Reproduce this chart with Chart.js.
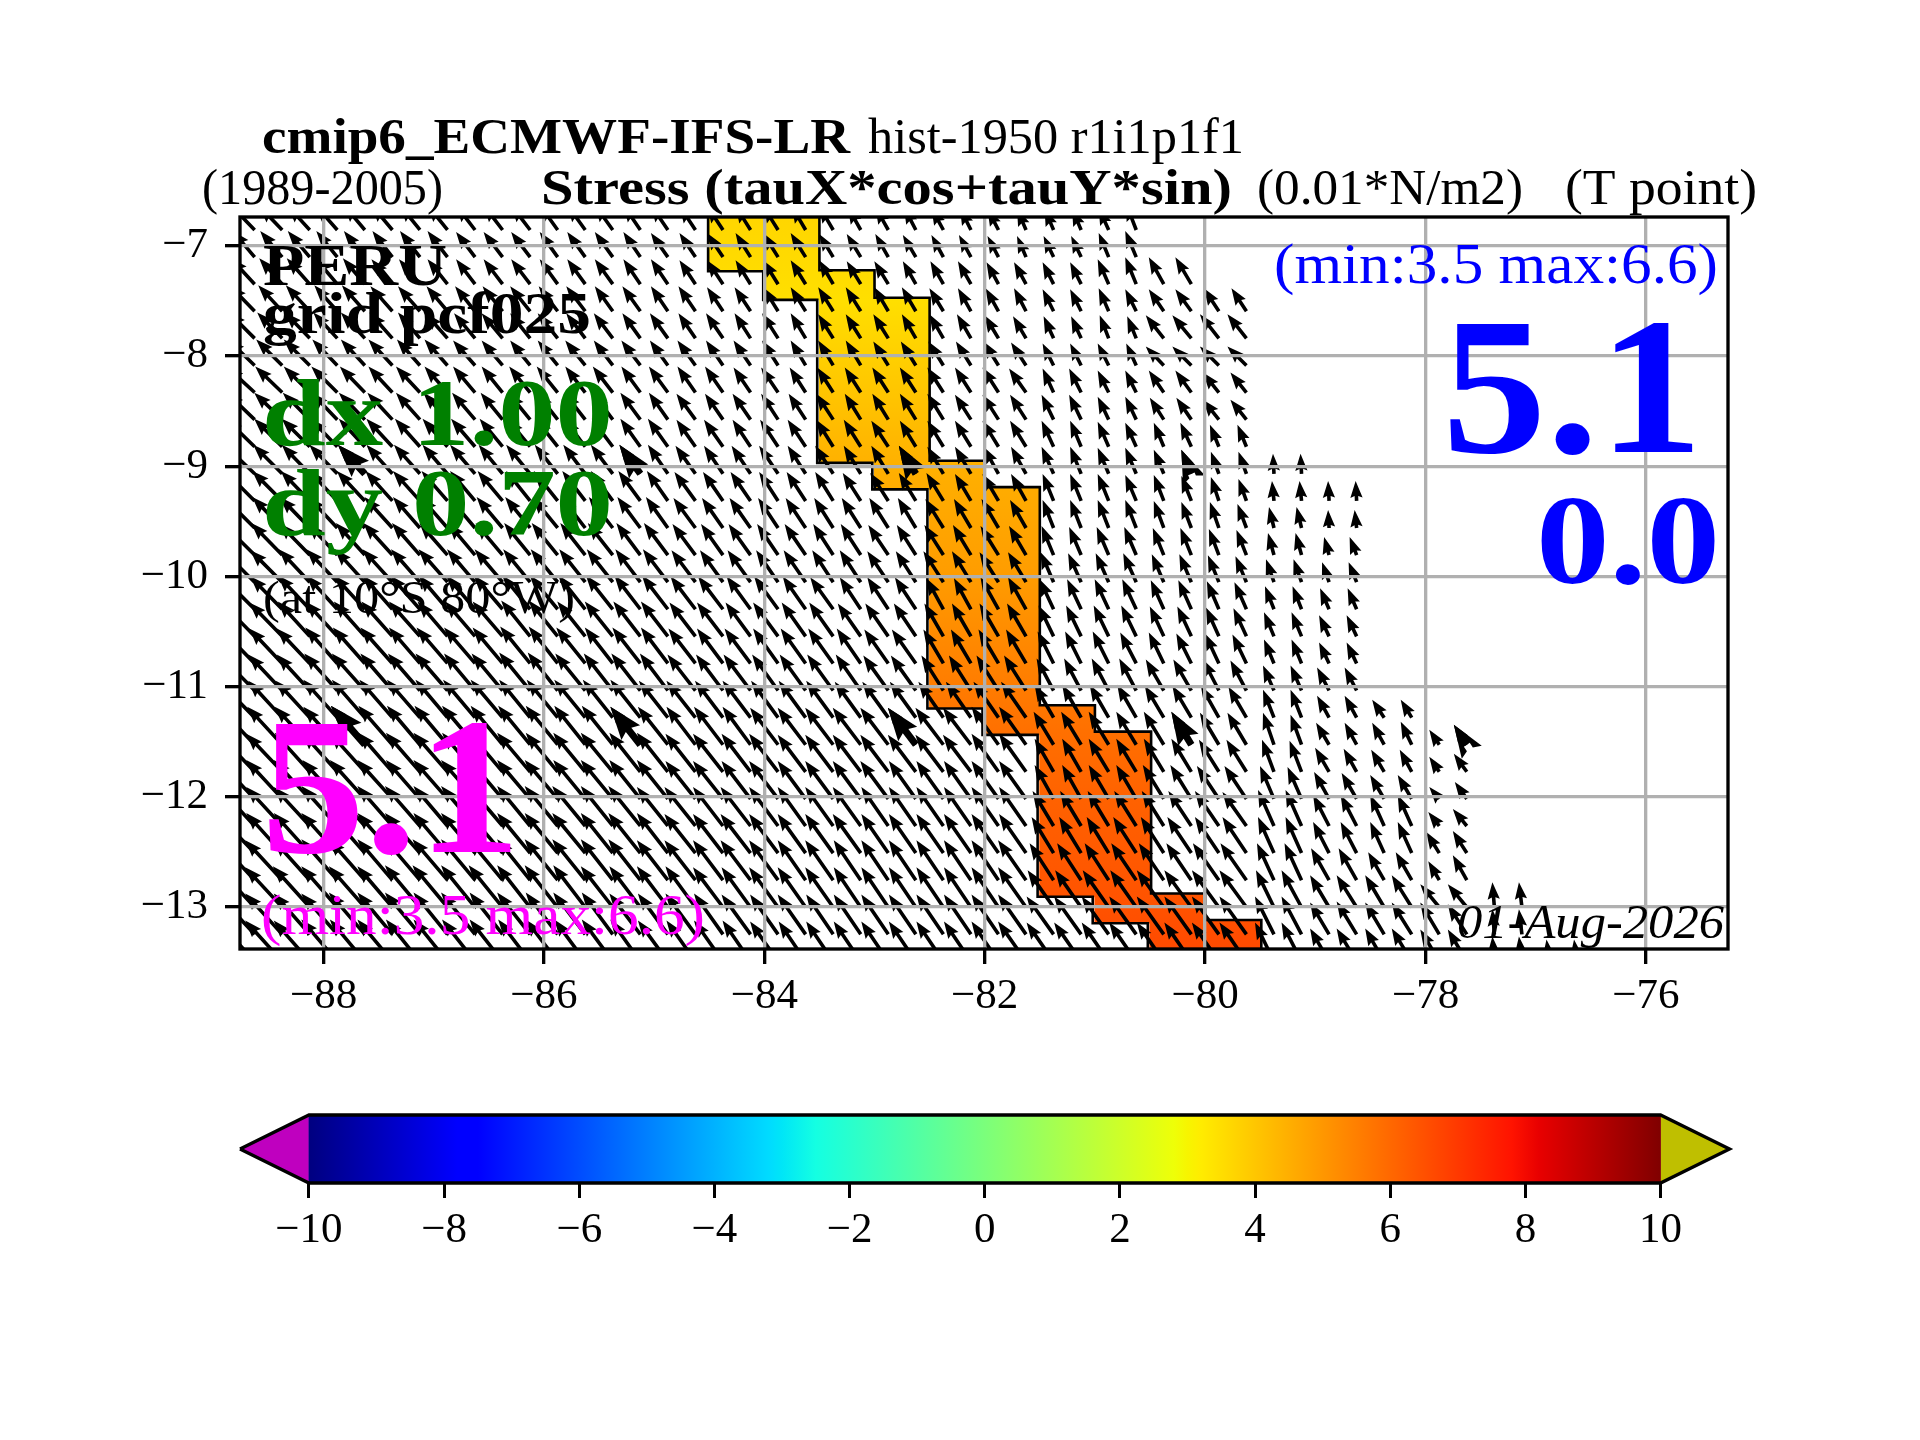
<!DOCTYPE html>
<html>
<head>
<meta charset="utf-8">
<title>cmip6 ECMWF-IFS-LR stress</title>
<script src="https://cdn.jsdelivr.net/npm/chart.js@4/dist/chart.umd.js"></script>
<style>
  html, body { margin: 0; padding: 0; background: #fff; }
  canvas { display: block; }
</style>
</head>
<body>
<canvas id="mapChart" width="1920" height="1060"></canvas>
<canvas id="barChart" width="1920" height="380"></canvas>
<script>
// tick labels
const lonTicks = [-88, -86, -84, -82, -80, -78, -76];
const latTicks = [-7, -8, -9, -10, -11, -12, -13];
const colorbarTicks = [-10, -8, -6, -4, -2, 0, 2, 4, 6, 8, 10];

// coloured cells, one bar per 0.5 degree column
const cellLon = [-84.25, -83.75, -83.25, -82.75, -82.25, -81.75, -81.25, -80.75, -80.25, -79.75];
const cellTop = [-6.6, -6.6, -7.22, -7.47, -8.95, -9.19, -11.17, -11.41, -12.88, -13.12];
const cellBottom = [-7.23, -7.49, -8.97, -9.21, -11.2, -11.44, -12.91, -13.15, -13.6, -13.6];
const cellValueLat = [-6.74, -7.5, -8.5, -9, -10, -11, -11.4, -12, -13, -13.38];
const cellValueColor = ['#ffd600', '#ffdf00', '#ffc000', '#ffb000', '#ff9c00', '#ff7c00', '#ff7000', '#ff6200', '#ff5200', '#ff4a00'];

// black outline round the cells
const outlineLon = [-84.51, -83.5, -83.5, -83, -83, -82.5, -82.5, -82, -82, -81.5, -81.5, -81, -81, -80.49, -80.49, -80, -80, -79.49, -79.49,
  -80.52, -80.52, -81.02, -81.02, -81.52, -81.52, -82.02, -82.02, -82.52, -82.52, -83.02, -83.02, -83.52, -83.52, -84.01, -84.01, -84.51, -84.51];
const outlineLat = [-6.6, -6.6, -7.22, -7.22, -7.47, -7.47, -8.95, -8.95, -9.19, -9.19, -11.17, -11.17, -11.41, -11.41, -12.88, -12.88, -13.12, -13.12, -13.6,
  -13.6, -13.15, -13.15, -12.91, -12.91, -11.44, -11.44, -11.2, -11.2, -9.21, -9.21, -8.97, -8.97, -7.49, -7.49, -7.23, -7.23, -6.6];

// arrow tails
const arrowLon = [-88.625, -88.375, -88.125, -87.875, -87.625, -87.375, -87.125, -86.875, -86.625, -86.375,
  -86.125, -85.875, -85.625, -85.375, -85.125, -84.875, -84.625, -84.375, -84.125, -83.875,
  -83.625, -83.375, -83.125, -82.875, -82.625, -82.375, -82.125, -81.875, -81.625, -81.375,
  -81.125, -80.875, -80.625, -80.375, -80.125, -79.875, -79.625, -79.375, -79.125, -78.875,
  -78.625, -78.375, -78.125, -77.875, -77.625, -77.375, -77.125, -76.875, -76.625];
const arrowLat = [-6.855, -7.101, -7.347, -7.593, -7.839, -8.085, -8.331, -8.577, -8.823, -9.069,
  -9.315, -9.561, -9.807, -10.053, -10.299, -10.545, -10.791, -11.037, -11.283, -11.529,
  -11.775, -12.021, -12.267, -12.513, -12.759, -13.005, -13.251, -13.497];

// westward part of each arrow, row by row
const westRows = [
  [23,23,22,22,21,21,20,20,19,19,19,18,18,18,17,17,16,16,15,15,14,14,13,13,12,12,11,11,9,9,9,10,10],
  [22,22,22,21,21,20,20,20,19,19,19,18,18,18,17,17,16,16,15,15,15,14,14,13,13,12,12,11,9,10,10,10,11],
  [24,23,23,22,22,21,21,20,19,19,19,18,18,18,17,17,16,16,15,15,15,14,14,14,13,13,13,12,12,11,11,11,11,15,16],
  [25,24,24,23,23,22,22,21,20,20,20,19,19,18,18,17,17,16,16,15,15,15,15,14,14,14,13,13,12,11,11,10,11,15,16,15,15],
  [26,25,25,24,24,23,22,22,21,21,20,20,19,19,18,18,17,17,16,16,15,15,15,15,14,14,14,14,13,10,10,9,9,18,19,19,19],
  [27,26,26,25,24,24,23,23,22,21,20,20,20,19,19,18,18,17,17,16,15,15,15,15,15,15,15,15,15,11,11,11,10,18,19,19,19],
  [28,27,26,26,25,24,24,23,22,21,21,21,20,20,19,19,18,18,17,17,16,16,16,16,16,16,16,16,17,11,12,11,11,15,16,16,16],
  [28,28,27,26,26,25,24,24,23,22,22,21,21,20,20,19,19,18,18,17,17,17,16,16,16,16,16,16,16,12,12,11,11,14,15,16,16],
  [29,28,28,27,26,26,25,25,24,23,23,22,21,21,20,20,19,19,18,18,18,17,17,17,16,16,16,16,16,12,11,11,11,10,11,9,9],
  [30,29,28,28,27,26,26,25,25,24,24,23,22,22,21,20,20,19,19,19,18,18,17,17,17,16,16,15,15,12,11,11,11,10,10,8,8,1,1],
  [30,30,29,28,28,27,27,26,25,25,24,24,23,22,22,21,21,20,20,19,19,18,18,18,17,17,16,16,15,11,11,11,11,10,10,8,8,2,2,1,1],
  [31,30,30,29,29,28,27,27,26,26,25,25,24,24,23,22,22,21,21,20,20,19,19,19,18,18,17,17,16,11,11,11,11,10,10,9,9,5,5,1,2],
  [32,31,31,30,29,29,28,28,27,27,26,26,25,25,24,24,23,22,22,21,21,20,20,20,19,19,18,18,17,12,12,12,12,11,11,10,10,6,6,5,7],
  [32,32,31,31,30,30,29,29,28,28,27,27,26,26,25,25,24,23,23,22,22,21,21,21,20,20,19,19,18,13,13,13,13,12,12,11,11,8,8,7,8],
  [33,32,32,31,31,30,30,29,29,29,28,28,27,27,26,26,25,25,24,24,23,23,21,21,21,17,17,18,18,14,14,14,14,13,13,12,12,9,9,9,9],
  [33,33,32,32,31,31,31,30,30,30,29,29,28,28,27,27,26,26,25,25,24,24,23,23,22,19,19,19,19,15,15,15,15,14,14,13,13,10,10,10,10],
  [34,33,33,32,32,32,31,31,31,30,30,29,29,28,28,27,27,26,26,25,25,25,24,24,24,20,20,20,20,16,16,16,16,15,15,14,14,10,10,10,10],
  [34,34,33,33,33,32,32,32,31,31,31,30,30,29,29,28,28,27,27,26,26,26,25,25,25,22,22,22,22,17,17,17,17,18,18,16,16,11,11,12,12],
  [35,34,34,34,33,33,33,32,32,32,31,31,31,30,30,29,29,28,28,27,27,27,26,26,26,25,25,25,25,19,19,19,19,19,19,18,18,11,11,12,12,12,11],
  [35,35,35,34,34,34,33,33,33,32,32,32,31,31,30,30,29,29,28,28,28,28,28,28,28,28,28,27,27,20,20,20,20,20,20,19,19,11,11,13,12,12,11,10,13],
  [36,36,35,35,35,34,34,34,33,33,33,32,32,32,31,31,30,30,29,29,28,28,28,28,28,28,28,27,27,19,19,20,20,20,20,20,20,12,12,14,13,13,12,10,13],
  [36,36,36,35,35,35,34,34,34,33,33,33,32,32,31,31,30,30,29,29,28,28,28,28,27,27,27,27,27,19,19,20,20,21,21,22,22,14,14,15,15,14,14,10,12],
  [36,36,36,36,35,35,35,34,34,34,33,33,33,32,32,31,31,30,30,29,28,28,28,27,27,27,27,27,27,21,21,21,22,22,23,24,24,16,16,16,16,14,14,11,14],
  [37,36,36,36,35,35,35,34,34,34,33,33,33,32,32,31,31,30,30,29,28,28,28,27,27,27,27,27,27,22,22,22,23,23,24,24,24,16,16,16,16,14,14,13,14],
  [37,37,36,36,36,35,35,35,34,34,33,33,33,32,32,31,31,30,30,29,28,28,27,27,27,27,27,27,28,24,24,24,25,25,25,26,26,17,17,18,18,16,16,11,14],
  [37,37,37,36,36,35,35,35,34,34,33,33,32,32,31,31,30,30,29,29,28,28,27,27,27,27,27,27,28,26,26,26,26,27,27,27,27,18,20,19,20,19,20,19,19,2,3],
  [37,37,36,36,36,35,35,34,34,33,33,32,32,31,31,30,30,29,29,28,28,27,27,27,27,27,27,27,28,27,27,27,27,27,27,27,27,19,20,19,20,19,20,19,19,2,3],
  [37,37,36,36,35,35,34,34,33,33,32,32,31,31,30,30,29,29,28,28,27,27,27,27,27,27,27,27,28,27,27,27,27,27,27,27,27,19,20,19,20,19,20,19,19,2,3,3,3]
];

// northward part of each arrow, row by row
const northRows = [
  [24,24,24,25,25,25,25,25,25,25,25,25,25,25,25,25,24,24,24,24,24,24,23,23,23,22,22,21,21,21,21,22,26],
  [26,26,26,26,26,26,26,26,25,25,25,25,25,25,25,24,24,24,24,24,24,23,23,23,22,22,22,21,21,21,21,24,26],
  [26,26,26,26,26,25,25,25,25,25,25,25,25,25,25,25,24,24,24,24,24,24,23,23,23,23,23,22,22,22,22,25,27,27,27],
  [26,26,26,26,26,25,25,25,25,25,25,25,25,25,25,25,25,24,24,24,24,24,24,24,24,23,23,23,23,22,22,23,22,22,22,23,23],
  [26,26,26,26,26,26,26,25,25,25,25,25,25,25,25,25,25,25,25,25,25,24,24,24,24,24,24,23,22,22,22,23,22,23,23,24,24],
  [26,26,26,26,26,26,26,26,25,25,25,25,25,25,25,25,25,25,25,25,25,25,25,24,24,24,24,24,23,22,22,22,22,19,19,19,19],
  [26,26,26,26,26,26,26,26,26,26,26,26,26,26,26,26,26,26,25,25,25,25,25,25,25,25,25,25,24,24,24,22,22,22,22,20,20],
  [27,27,27,27,27,27,27,27,27,27,27,27,27,27,27,27,26,26,26,26,26,26,26,26,26,26,25,25,25,25,25,23,23,22,22,20,20],
  [28,28,28,28,28,28,28,28,28,28,28,28,28,28,28,28,27,27,27,27,27,27,27,26,26,26,26,26,26,26,26,25,24,24,24,22,22],
  [29,29,29,29,29,29,29,29,29,29,29,29,29,29,29,29,28,28,28,28,28,28,28,28,28,27,27,27,27,27,27,26,26,24,24,22,22,20,20],
  [30,30,30,30,30,30,30,30,30,30,30,30,30,30,30,30,29,29,29,29,29,29,28,28,28,28,27,27,27,27,27,27,26,26,25,24,22,20,20,20,20],
  [31,31,31,31,31,31,31,31,31,31,31,31,31,31,31,31,30,30,30,30,30,30,30,30,30,29,29,29,28,28,28,28,28,27,26,26,24,21,21,18,18],
  [32,32,32,32,32,32,32,32,32,32,32,32,32,32,32,32,31,31,31,31,31,31,31,30,30,30,30,29,29,29,28,28,28,27,27,26,25,22,22,18,18],
  [32,32,33,33,33,33,33,33,33,33,33,33,33,33,33,33,32,32,32,32,32,32,32,31,31,31,31,30,30,30,29,29,29,28,28,27,26,23,23,20,20],
  [33,33,34,34,34,34,34,34,34,34,34,34,34,34,34,34,33,33,33,33,33,32,32,32,32,31,31,32,32,30,30,30,30,29,29,28,27,23,23,21,21],
  [34,34,35,35,35,35,35,35,35,35,36,36,35,35,35,35,34,34,34,34,34,34,33,33,33,33,33,33,33,31,31,31,31,30,30,29,28,24,24,21,21],
  [35,35,35,36,36,36,36,36,36,36,37,37,36,36,36,36,35,35,35,35,35,35,35,34,34,34,34,34,34,32,32,32,31,31,30,30,29,24,24,21,21],
  [35,36,36,37,37,37,37,37,37,37,38,38,37,37,37,37,36,36,36,36,36,36,36,35,35,35,35,35,35,32,32,32,32,31,31,31,30,25,25,23,23],
  [36,37,37,38,38,38,38,38,38,38,38,38,38,38,38,37,37,37,37,37,37,37,36,36,36,36,36,36,36,33,33,33,33,32,32,32,31,28,28,22,22,18,18],
  [37,38,38,38,39,39,39,39,39,39,39,39,39,39,38,38,38,38,38,37,37,37,37,37,37,37,37,38,38,33,33,33,33,33,33,32,32,32,30,22,22,22,23,15,20],
  [38,38,39,39,39,39,39,39,39,39,39,39,39,39,39,39,38,38,38,38,37,37,37,37,37,37,37,38,38,33,33,33,33,33,33,32,32,32,31,24,23,22,22,15,18],
  [38,39,39,39,39,39,39,39,39,39,39,39,39,39,39,39,38,38,38,38,38,38,38,38,38,38,38,38,38,34,34,34,34,34,34,33,33,33,32,27,26,24,24,12,17],
  [39,39,39,40,40,40,40,40,40,40,40,40,40,40,40,39,39,39,39,39,39,39,39,39,39,39,39,39,39,35,35,35,35,35,35,35,34,36,36,31,31,31,31,14,17],
  [39,40,40,40,40,40,40,40,40,40,40,40,40,40,40,40,39,39,39,39,39,39,39,39,39,39,39,39,39,36,36,36,36,36,36,36,36,36,36,31,31,31,31,21,22],
  [40,40,40,41,41,41,41,41,41,41,41,41,41,41,41,40,40,40,40,40,40,40,40,40,40,40,40,40,40,37,37,37,37,37,37,37,37,37,37,32,32,28,28,19,25],
  [40,40,41,41,41,41,42,42,42,42,42,42,42,41,41,41,41,40,40,40,40,40,40,40,40,40,40,40,40,37,37,37,37,37,37,37,37,37,37,32,32,32,32,23,23,25,25],
  [40,41,41,41,42,42,42,42,42,42,42,42,42,42,41,41,41,41,40,40,40,40,40,40,40,40,40,40,40,38,38,38,38,38,38,38,38,38,38,32,33,32,32,32,30,25,25],
  [41,41,41,42,42,42,42,42,42,42,42,42,42,42,42,41,41,41,41,40,40,40,40,40,40,40,40,40,40,39,39,39,39,39,39,39,39,39,39,33,33,33,33,32,32,25,25,22,22]
];

// every tenth arrow is drawn heavy
const heavyRows = [9, 19];
const heavyCols = [4, 14, 24, 34, 44];

// colour bar
const jetStops = [0, 0.11, 0.125, 0.34, 0.35, 0.375, 0.64, 0.65, 0.66, 0.89, 0.91, 1];
const jetColors = ['#000080', '#0000ff', '#0000ff', '#00dbff', '#00e6f7', '#14ffe2', '#eeff08', '#f7f500', '#ffec00', '#ff1300', '#e80000', '#800000'];
const colorbarLimits = [-10, 10];
const colorbarTip = 11.02;
const underColor = '#bf00bf';
const overColor = '#bfbf00';

const serif = '"Liberation Serif", serif';
const arrowScale = 1 / 110.2;

const lightTexts = [
  // text, left, right, baseline, css font, colour
  ['cmip6_ECMWF-IFS-LR', 262, 850, 153, 'bold 50px', '#000'],
  ['hist-1950 r1i1p1f1', 868, 1244, 153, '50px', '#000'],
  ['(1989-2005)', 202, 443, 204, '50px', '#000'],
  ['Stress (tauX*cos+tauY*sin)', 541, 1232, 204, 'bold 50px', '#000'],
  ['(0.01*N/m2)', 1257, 1523, 204, '50px', '#000'],
  ['(T point)', 1565, 1757, 204, '50px', '#000'],
  ['PERU', 263, 447, 285, 'bold 60px', '#000'],
  ['grid pcf025', 263, 591, 333, 'bold 60px', '#000'],
  ['dx 1.00', 262, 613, 445, 'bold 95px', '#008000'],
  ['dy 0.70', 262, 613, 535, 'bold 95px', '#008000'],
  ['(at 10\u00b0S 80\u00b0W)', 263, 575, 613, '46px', '#000'],
  ['5.1', 261, 521, 852, 'bold 196px', '#ff00ff'],
  ['(min:3.5 max:6.6)', 261, 705, 934, '58px', '#ff00ff'],
  ['(min:3.5 max:6.6)', 1274, 1718, 283, '58px', '#0000ff'],
  ['5.1', 1442, 1703, 452, 'bold 196px', '#0000ff'],
  ['0.0', 1536, 1720, 583, 'bold 127px', '#0000ff'],
  ['01-Aug-2026', 1457, 1724, 938, 'italic 48px', '#000']
];

function minusLabel(v) {
  return String(v).replace('-', '\u2212');
}

function arrowPoints() {
  const pts = [];
  westRows.forEach(function(row, j) {
    row.forEach(function(west, k) {
      pts.push({ x: arrowLon[k], y: arrowLat[j], west: west, north: northRows[j][k] });
    });
  });
  return pts;
}

function heavyPoints() {
  const pts = [];
  heavyRows.forEach(function(j) {
    heavyCols.forEach(function(k) {
      if (k < westRows[j].length) {
        pts.push({ x: arrowLon[k], y: arrowLat[j], west: westRows[j][k], north: northRows[j][k] });
      }
    });
  });
  return pts;
}

function drawArrow(ctx, x0, y0, x1, y1, w) {
  const len = Math.hypot(x1 - x0, y1 - y0);
  if (len < 1) return;
  ctx.save();
  ctx.translate(x0, y0);
  ctx.rotate(Math.atan2(y1 - y0, x1 - x0));
  ctx.beginPath();
  ctx.moveTo(0, -w / 2);
  ctx.lineTo(len - 4.2 * w, -w / 2);
  ctx.lineTo(len - 4.7 * w, -1.7 * w);
  ctx.lineTo(len, 0);
  ctx.lineTo(len - 4.7 * w, 1.7 * w);
  ctx.lineTo(len - 4.2 * w, w / 2);
  ctx.lineTo(0, w / 2);
  ctx.closePath();
  ctx.fill();
  ctx.restore();
}

// arrows go through the x and y scales of the chart
const quiverPlugin = {
  id: 'quiver',
  afterDatasetsDraw(chart) {
    const { ctx, chartArea, scales } = chart;
    ctx.save();
    ctx.beginPath();
    ctx.rect(chartArea.left, chartArea.top, chartArea.width, chartArea.height);
    ctx.clip();
    ctx.fillStyle = '#000';
    chart.data.datasets.forEach(function(ds) {
      if (!ds.arrowWidth) return;
      ds.data.forEach(function(p) {
        drawArrow(ctx,
          scales.x.getPixelForValue(p.x), scales.y.getPixelForValue(p.y),
          scales.x.getPixelForValue(p.x - p.west * arrowScale), scales.y.getPixelForValue(p.y + p.north * arrowScale),
          ds.arrowWidth);
      });
    });
    ctx.restore();
  }
};

const framePlugin = {
  id: 'frameAndText',
  afterDraw(chart) {
    const { ctx, chartArea } = chart;
    ctx.save();
    ctx.strokeStyle = '#000';
    ctx.lineWidth = 3.33;
    ctx.strokeRect(chartArea.left, chartArea.top, chartArea.width, chartArea.height);
    ctx.textBaseline = 'alphabetic';
    ctx.textAlign = 'left';
    lightTexts.forEach(function(t) {
      ctx.font = t[4] + ' ' + serif;
      ctx.fillStyle = t[5];
      const width = ctx.measureText(t[0]).width;
      ctx.save();
      ctx.translate(t[1], t[3]);
      ctx.scale((t[2] - t[1]) / width, 1);
      ctx.fillText(t[0], 0, 0);
      ctx.restore();
    });
    ctx.restore();
  }
};

function cellGradient(context) {
  const chart = context.chart;
  if (!chart.chartArea) return cellValueColor[0];
  const y = chart.scales.y;
  const top = y.getPixelForValue(cellValueLat[0]);
  const bottom = y.getPixelForValue(cellValueLat[cellValueLat.length - 1]);
  const g = chart.ctx.createLinearGradient(0, top, 0, bottom);
  cellValueLat.forEach(function(lat, i) {
    g.addColorStop((y.getPixelForValue(lat) - top) / (bottom - top), cellValueColor[i]);
  });
  return g;
}

new Chart(document.getElementById('mapChart'), {
  type: 'bar',
  plugins: [quiverPlugin, framePlugin],
  data: {
    datasets: [
      {
        label: 'cells',
        order: 3,
        data: cellLon.map(function(lon, i) { return { x: lon, y: [cellBottom[i], cellTop[i]] }; }),
        backgroundColor: cellGradient,
        borderWidth: 0,
        barThickness: 55.5
      },
      {
        type: 'line',
        label: 'outline',
        order: 2,
        data: outlineLon.map(function(lon, i) { return { x: lon, y: outlineLat[i] }; }),
        borderColor: '#000',
        borderWidth: 2.6,
        pointRadius: 0,
        tension: 0,
        fill: false
      },
      {
        type: 'scatter',
        label: 'stress',
        order: 1,
        data: arrowPoints(),
        pointRadius: 0,
        arrowWidth: 3.6
      },
      {
        type: 'scatter',
        label: 'stress every tenth',
        order: 1,
        data: heavyPoints(),
        pointRadius: 0,
        arrowWidth: 7
      }
    ]
  },
  options: {
    responsive: false,
    animation: false,
    devicePixelRatio: 1,
    layout: { autoPadding: false, padding: { left: 0, top: 217, right: 192, bottom: 0 } },
    plugins: { legend: { display: false }, title: { display: false }, tooltip: { enabled: false } },
    scales: {
      x: {
        type: 'linear',
        min: -88.758,
        max: -75.255,
        offset: false,
        afterBuildTicks: function(s) { s.ticks = lonTicks.map(function(v) { return { value: v }; }); },
        afterFit: function(s) { s.height = 111; },
        grid: { offset: false, color: '#b0b0b0', lineWidth: 3.33, z: 1, tickLength: 15, tickColor: '#000', tickWidth: 3.33 },
        border: { display: false },
        ticks: {
          callback: minusLabel,
          color: '#000',
          font: { family: serif, size: 43 },
          padding: 7,
          maxRotation: 0,
          autoSkip: false
        }
      },
      y: {
        type: 'linear',
        min: -13.384,
        max: -6.737,
        afterBuildTicks: function(s) { s.ticks = latTicks.map(function(v) { return { value: v }; }); },
        afterFit: function(s) { s.width = 240; },
        grid: { color: '#b0b0b0', lineWidth: 3.33, z: 1, tickLength: 15, tickColor: '#000', tickWidth: 3.33 },
        border: { display: false },
        ticks: {
          callback: minusLabel,
          color: '#000',
          font: { family: serif, size: 43 },
          padding: 17,
          autoSkip: false
        }
      }
    }
  }
});

function jetGradient(context) {
  const chart = context.chart;
  if (!chart.chartArea) return jetColors[0];
  const x = chart.scales.x;
  const g = chart.ctx.createLinearGradient(x.getPixelForValue(colorbarLimits[0]), 0, x.getPixelForValue(colorbarLimits[1]), 0);
  jetStops.forEach(function(s, i) { g.addColorStop(s, jetColors[i]); });
  return g;
}

// the two end triangles of the colour bar, under the outline dataset
const extendPlugin = {
  id: 'colorbarEnds',
  beforeDatasetsDraw(chart) {
    const { ctx, scales } = chart;
    const ends = [[-colorbarTip, colorbarLimits[0], underColor], [colorbarTip, colorbarLimits[1], overColor]];
    ends.forEach(function(e) {
      ctx.fillStyle = e[2];
      ctx.beginPath();
      ctx.moveTo(scales.x.getPixelForValue(e[0]), scales.y.getPixelForValue(0.5));
      ctx.lineTo(scales.x.getPixelForValue(e[1]), scales.y.getPixelForValue(1));
      ctx.lineTo(scales.x.getPixelForValue(e[1]), scales.y.getPixelForValue(0));
      ctx.closePath();
      ctx.fill();
    });
  }
};

new Chart(document.getElementById('barChart'), {
  type: 'bar',
  plugins: [extendPlugin],
  data: {
    datasets: [
      {
        label: 'scale',
        order: 3,
        data: [{ y: 0.5, x: colorbarLimits }],
        backgroundColor: jetGradient,
        borderWidth: 0,
        barThickness: 68
      },
      {
        type: 'line', order: 1, clip: false, pointRadius: 0, tension: 0,
        borderColor: '#000', borderWidth: 3.33, fill: false,
        data: [
          { x: -colorbarTip, y: 0.5 }, { x: colorbarLimits[0], y: 1 }, { x: colorbarLimits[1], y: 1 },
          { x: colorbarTip, y: 0.5 }, { x: colorbarLimits[1], y: 0 }, { x: colorbarLimits[0], y: 0 },
          { x: -colorbarTip, y: 0.5 }
        ]
      }
    ]
  },
  options: {
    indexAxis: 'y',
    responsive: false,
    animation: false,
    devicePixelRatio: 1,
    layout: { autoPadding: false, padding: { left: 240, top: 55, right: 190.5, bottom: 0 } },
    plugins: { legend: { display: false }, title: { display: false }, tooltip: { enabled: false } },
    scales: {
      x: {
        type: 'linear',
        min: -colorbarTip,
        max: colorbarTip,
        afterBuildTicks: function(s) { s.ticks = colorbarTicks.map(function(v) { return { value: v }; }); },
        afterFit: function(s) { s.height = 257; },
        grid: { drawOnChartArea: false, tickLength: 15, tickColor: '#000', tickWidth: 3 },
        border: { display: false },
        ticks: {
          callback: minusLabel,
          color: '#000',
          font: { family: serif, size: 43 },
          padding: 7,
          maxRotation: 0,
          autoSkip: false
        }
      },
      y: {
        type: 'linear',
        display: false,
        min: 0,
        max: 1,
        offset: false
      }
    }
  }
});
</script>
</body>
</html>
